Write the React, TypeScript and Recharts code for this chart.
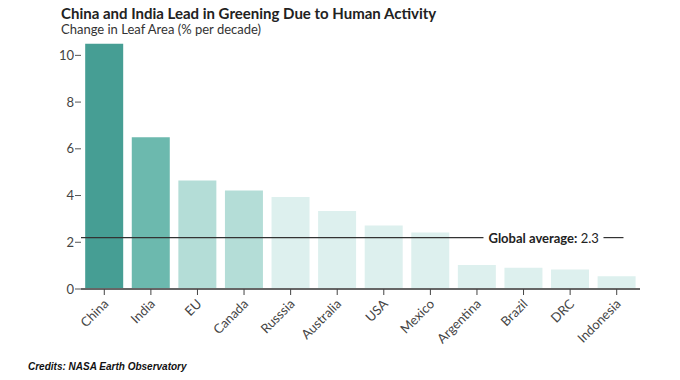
import { BarChart, Bar, XAxis, YAxis, Cell, ReferenceLine } from "recharts";

const countries = [
  "China",
  "India",
  "EU",
  "Canada",
  "Russsia",
  "Australia",
  "USA",
  "Mexico",
  "Argentina",
  "Brazil",
  "DRC",
  "Indonesia",
];
const leafChange = [10.5, 6.5, 4.64, 4.22, 3.94, 3.34, 2.72, 2.42, 1.03, 0.91, 0.83, 0.55];
const barColors = [
  "#469e94",
  "#6cb9ae",
  "#b4ddd7",
  "#b4ddd7",
  "#ddf0ee",
  "#ddf0ee",
  "#ddf0ee",
  "#ddf0ee",
  "#ddf0ee",
  "#ddf0ee",
  "#ddf0ee",
  "#ddf0ee",
];
const yTicks = [0, 2, 4, 6, 8, 10];
const globalAverage = 2.2;
const globalAverageLabel = "2.3";

const data = countries.map((c, i) => ({ country: c, value: leafChange[i] }));

const FONT = "Lato, 'Noto Sans', sans-serif";

function XTick(props: any) {
  const { x, y, payload } = props;
  return (
    <text
      x={x}
      y={y}
      dx={-2}
      dy={9}
      textAnchor="end"
      transform={`rotate(-45, ${x}, ${y})`}
      fontSize={13}
      fontFamily={FONT}
      fill="#444"
    >
      {payload.value}
    </text>
  );
}

function AverageLabel(props: any) {
  const { viewBox } = props;
  const x0 = viewBox.x + viewBox.width * 0.72;
  const y = viewBox.y;
  return (
    <g>
      <rect x={x0} y={y - 8} width={viewBox.width * 0.3} height={16} fill="#fff" />
      <text x={x0 + 5} y={y + 5} fontSize={13} fontFamily={FONT} fill="#222">
        <tspan fontWeight="bold">Global average:</tspan>
        <tspan> {globalAverageLabel}</tspan>
      </text>
      <line
        x1={x0 + 120}
        x2={x0 + 140}
        y1={y}
        y2={y}
        stroke="#333"
        strokeWidth={1.2}
      />
    </g>
  );
}

export default function App() {
  return (
    <div
      style={{
        position: "absolute",
        left: 0,
        top: 0,
        width: 680,
        height: 380,
        background: "#fff",
        fontFamily: FONT,
      }}
    >
      <div
        style={{
          position: "absolute",
          left: 61,
          top: 5,
          fontSize: 15,
          lineHeight: "16px",
          fontWeight: "bold",
          color: "#222",
          whiteSpace: "nowrap",
        }}
      >
        China and India Lead in Greening Due to Human Activity
      </div>
      <div
        style={{
          position: "absolute",
          left: 61,
          top: 22,
          fontSize: 13,
          lineHeight: "14px",
          color: "#333",
          whiteSpace: "nowrap",
        }}
      >
        Change in Leaf Area (% per decade)
      </div>
      <BarChart
        width={680}
        height={380}
        data={data}
        margin={{ top: 32, right: 40, left: 0, bottom: 0 }}
        barCategoryGap="9%"
      >
        <YAxis
          width={81}
          domain={[0, 11]}
          ticks={yTicks}
          axisLine={false}
          tickSize={6}
          tickMargin={1}
          tickLine={{ stroke: "#555" }}
          tick={{ fontSize: 13, fill: "#444", fontFamily: FONT }}
          allowDataOverflow
        />
        <XAxis
          dataKey="country"
          height={91}
          interval={0}
          axisLine={{ stroke: "#666", strokeWidth: 2 }}
          tickLine={{ stroke: "#444" }}
          tickSize={6}
          tick={<XTick />}
        />
        <Bar dataKey="value" isAnimationActive={false}>
          {data.map((d, i) => (
            <Cell key={d.country} fill={barColors[i]} />
          ))}
        </Bar>
        <ReferenceLine
          y={globalAverage}
          stroke="#333"
          strokeWidth={1.2}
          label={<AverageLabel />}
        />
      </BarChart>
      <div
        style={{
          position: "absolute",
          left: 28,
          top: 361,
          fontSize: 10,
          fontWeight: "bold",
          fontStyle: "italic",
          fontFamily: "'Liberation Sans', Arial, sans-serif",
          color: "#111",
        }}
      >
        Credits: NASA Earth Observatory
      </div>
    </div>
  );
}
